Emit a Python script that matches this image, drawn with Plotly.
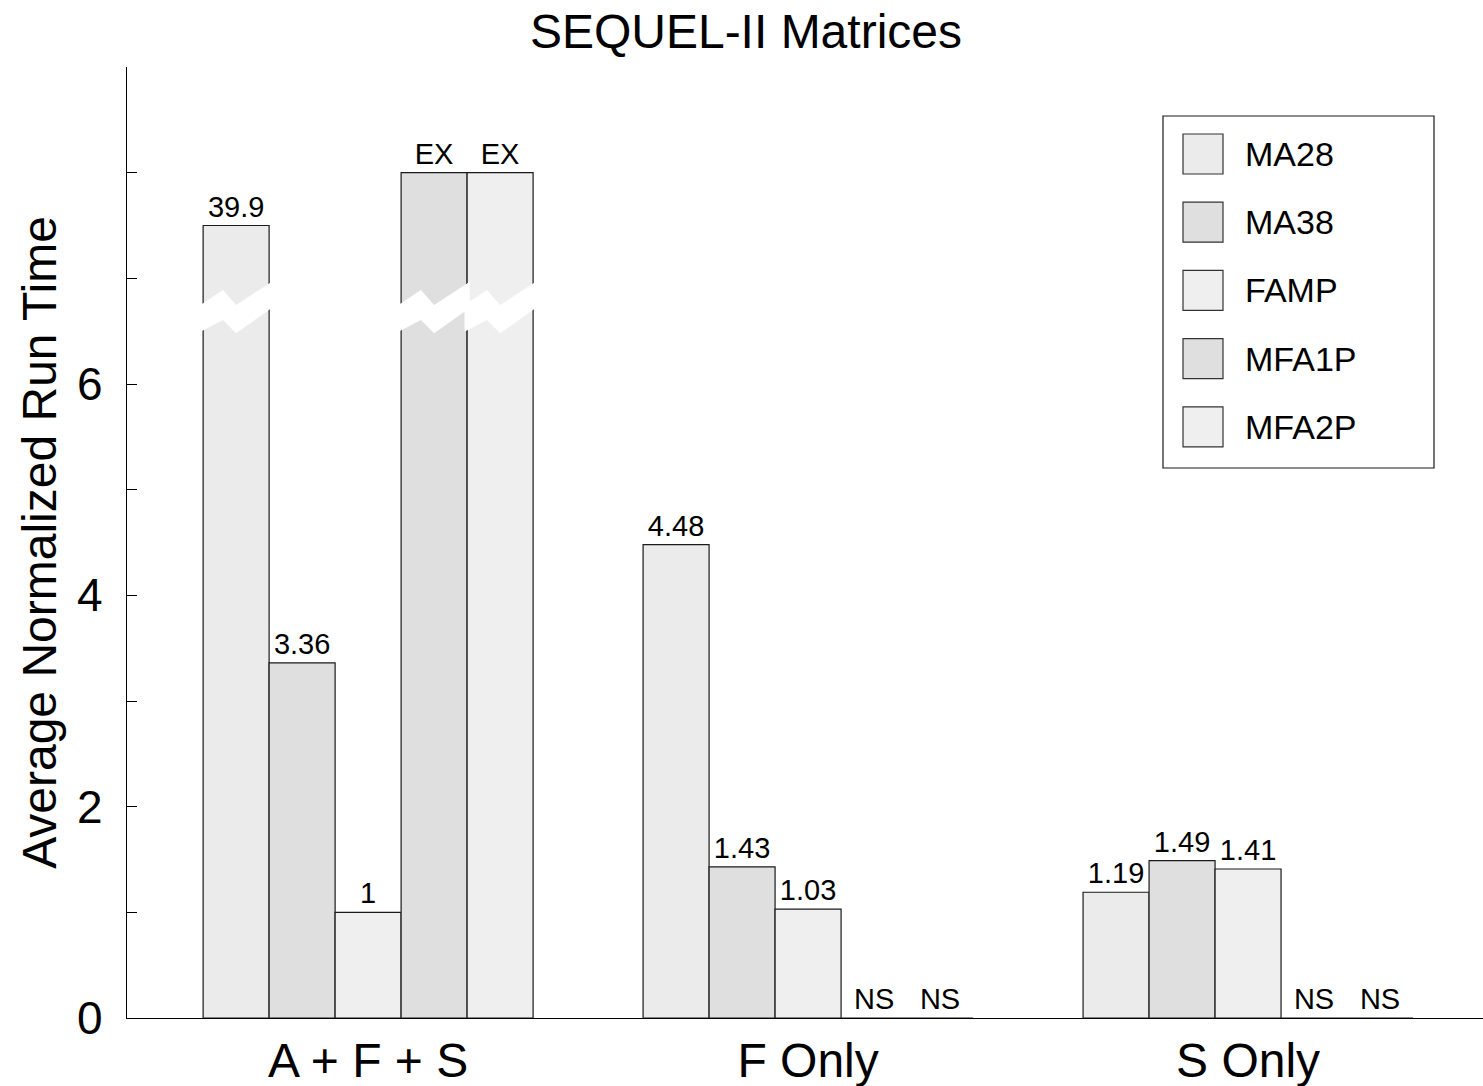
import plotly.graph_objects as go

# ---- data ----
categories = ["A + F + S", "F Only", "S Only"]
series_names = ["MA28", "MA38", "FAMP", "MFA1P", "MFA2P"]
# displayed bar heights (broken bars are drawn truncated)
ma28 = [7.5, 4.48, 1.19]
ma38 = [3.36, 1.43, 1.49]
famp = [1.0, 1.03, 1.41]
mfa1p = [8.0, 0.0, 0.0]
mfa2p = [8.0, 0.0, 0.0]
# value labels printed above the bars
ma28_lbl = ["39.9", "4.48", "1.19"]
ma38_lbl = ["3.36", "1.43", "1.49"]
famp_lbl = ["1", "1.03", "1.41"]
mfa1p_lbl = ["EX", "NS", "NS"]
mfa2p_lbl = ["EX", "NS", "NS"]
# which bars are broken (truncated) : (group index, series index)
broken = [(0, 0), (0, 3), (0, 4)]
y_tick_vals = [0, 1, 2, 3, 4, 5, 6, 7, 8]
y_tick_text = ["0", "", "2", "", "4", "", "6", "", ""]

values = [ma28, ma38, famp, mfa1p, mfa2p]
labels = [ma28_lbl, ma38_lbl, famp_lbl, mfa1p_lbl, mfa2p_lbl]
colors = ["#ebebeb", "#dfdfdf", "#efefef", "#dfdfdf", "#efefef"]

FONT = "Liberation Sans, Arial, Helvetica, sans-serif"
W, H = 1483, 1086
L, R, T, B = 127, 0, 67, 68
xpos = list(range(len(categories)))
BARGAP = 0.25
nser = len(series_names)
bw = (1 - BARGAP) / nser

fig = go.Figure()
for name, vals, lbl, col in zip(series_names, values, labels, colors):
    fig.add_trace(go.Bar(
        x=xpos, y=vals, name=name, text=lbl, textposition="outside",
        textfont=dict(size=29, color="black", family=FONT),
        marker=dict(color=col, line=dict(color="#1a1a1a", width=1.2)),
        cliponaxis=False, showlegend=False, constraintext="none",
    ))

shapes = []
# break marks (white zig-zag bands) on truncated bars
for gi, si in broken:
    x0 = xpos[gi] - (1 - BARGAP) / 2 + si * bw
    x1 = x0 + bw
    e = 0.006
    pts = [
        (x0 - e, 6.747), (x0 + 0.3 * bw, 6.889), (x0 + 0.5 * bw, 6.747), (x1 + e, 6.968),
        (x1 + e, 6.719), (x0 + 0.5 * bw, 6.480), (x0 + 0.3 * bw, 6.605), (x0 - e, 6.495),
    ]
    path = "M " + " L ".join(f"{px:.5f},{py:.4f}" for px, py in pts) + " Z"
    shapes.append(dict(type="path", path=path, xref="x", yref="y",
                       fillcolor="white", line=dict(width=0), layer="above"))

# manual legend (paper coordinates from pixel layout)
pw, ph = W - L - R, H - T - B
def px2x(p):
    return (p - L) / pw
def py2y(p):
    return (H - B - p) / ph

shapes.append(dict(type="rect", xref="paper", yref="paper",
                   x0=px2x(1163), x1=px2x(1434), y0=py2y(468), y1=py2y(116),
                   line=dict(color="#1a1a1a", width=1.2), fillcolor="white"))
annotations = []
for k, (name, col) in enumerate(zip(series_names, colors)):
    cy = 154 + k * 68.2
    shapes.append(dict(type="rect", xref="paper", yref="paper",
                       x0=px2x(1183), x1=px2x(1223), y0=py2y(cy + 20), y1=py2y(cy - 20),
                       line=dict(color="#333333", width=1.2), fillcolor=col))
    annotations.append(dict(x=px2x(1243), y=py2y(cy), xref="paper", yref="paper",
                            text=name, showarrow=False, xanchor="left", yanchor="middle",
                            font=dict(size=34, color="black", family=FONT)))

fig.update_layout(
    width=W, height=H,
    margin=dict(l=L, r=R, t=T, b=B, pad=0),
    paper_bgcolor="white", plot_bgcolor="white",
    barmode="group", bargap=BARGAP, bargroupgap=0,
    font=dict(family=FONT, color="black"),
    title=dict(text="SEQUEL-II Matrices", x=0.503, xanchor="center",
               y=1 - 31 / H, yanchor="middle", yref="container",
               font=dict(size=48, family=FONT, color="black")),
    xaxis=dict(range=[-0.548, 2.534], tickvals=xpos, ticktext=categories,
               showline=True, linecolor="black", linewidth=1.2, ticks="",
               showgrid=False, zeroline=False, automargin=False,
               tickfont=dict(size=48, family=FONT, color="black"),
               ticklabelstandoff=0),
    yaxis=dict(range=[0, 9], tickvals=y_tick_vals, ticktext=y_tick_text,
               ticks="inside", ticklen=10, tickcolor="black", tickwidth=1.2,
               showline=True, linecolor="black", linewidth=1.2,
               showgrid=False, zeroline=False, automargin=False,
               tickfont=dict(size=46, family=FONT, color="black"),
               ticklabelstandoff=14,
               title=dict(text="Average Normalized Run Time", standoff=5,
                          font=dict(size=48, family=FONT, color="black"))),
    shapes=shapes, annotations=annotations,
)

fig.write_html("out.html", config={"displayModeBar": False},
               post_script="document.body.style.margin='0';document.body.style.overflow='hidden';")
